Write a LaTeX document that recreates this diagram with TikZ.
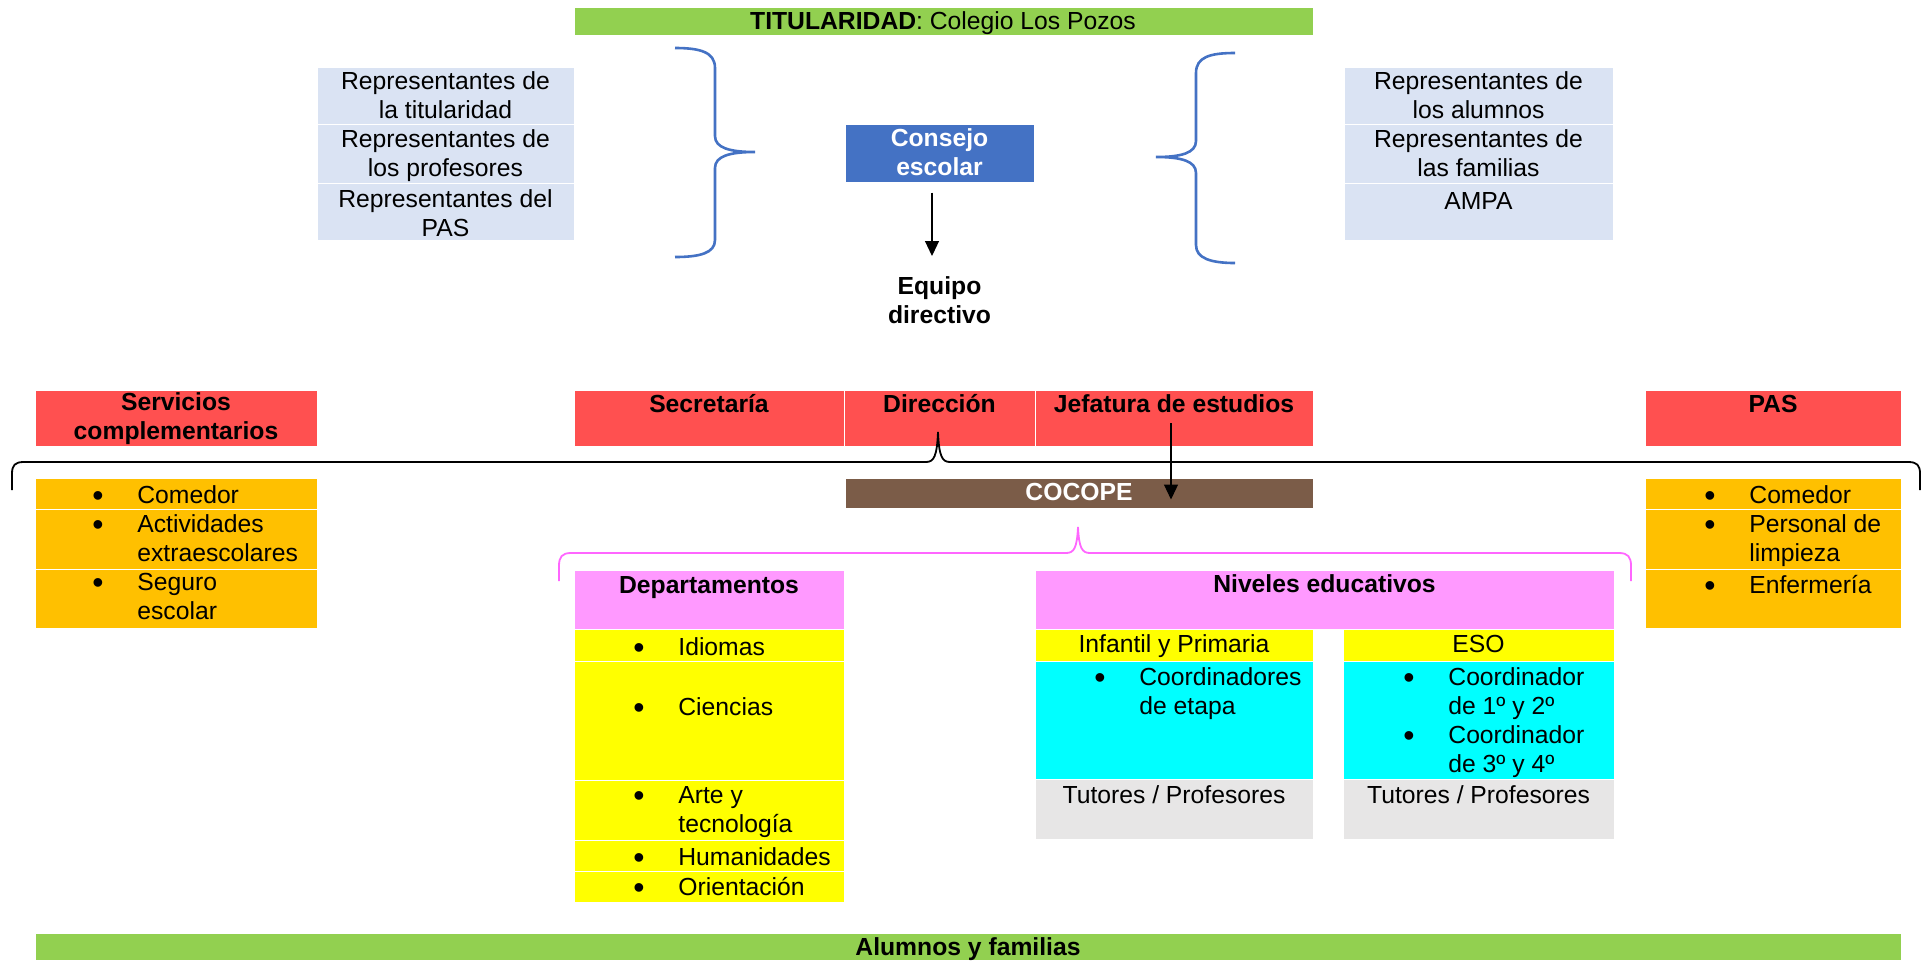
\documentclass[tikz,border=0pt]{standalone}
\usepackage{fontspec}
\setmainfont{Liberation Sans}
\usetikzlibrary{fit,arrows.meta}
\definecolor{cgreen}{HTML}{92D050}
\definecolor{clight}{HTML}{DAE3F3}
\definecolor{cblue}{HTML}{4472C4}
\definecolor{cred}{HTML}{FF5050}
\definecolor{corange}{HTML}{FFC000}
\definecolor{cbrown}{HTML}{7B5C48}
\definecolor{cpink}{HTML}{FF99FF}
\definecolor{cyellow}{HTML}{FFFF00}
\definecolor{ccyan}{HTML}{00FFFF}
\definecolor{cgrey}{HTML}{E7E6E6}
\definecolor{cmag}{HTML}{FF66FF}
\newcommand\fs{\fontsize{12.35pt}{14.6pt}\selectfont}
\newcommand\topstrut{\rule{0pt}{9.94pt}}
\newcommand\bul{\llap{\makebox[0pt]{\raisebox{-1.5pt}{\fontsize{16pt}{16pt}\selectfont •}}\hspace{19.75pt}}}
\tikzset{
  cell/.style={inner sep=0pt, draw=white, line width=0.5pt},
  txt/.style={inner sep=0pt, anchor=north, font=\fs, align=center, execute at begin node=\topstrut},
  btxt/.style={txt, font=\fs\bfseries},
  itm/.style={inner sep=0pt, anchor=north west, font=\fs, align=left, execute at begin node=\topstrut},
  arr/.style={-{Triangle[length=7.5pt,width=7pt]}, line width=0.6pt},
  bluebrace/.style={draw=cblue, line width=1.3pt},
  blackbrace/.style={draw=black, line width=0.9pt},
  magbrace/.style={draw=cmag, line width=0.9pt},
}
\begin{document}
\begin{tikzpicture}[x=0.5pt,y=-0.5pt]
\useasboundingbox (0,0) rectangle (1928,960);
% ---------- cells ----------
\node[cell, fill=cgreen, fit={(574,7) (1313,35)}] (tit) {};
\node[cell, fill=clight, fit={(317,67) (574,124)}] (lr1) {};
\node[cell, fill=clight, fit={(317,124) (574,183)}] (lr2) {};
\node[cell, fill=clight, fit={(317,183) (574,240)}] (lr3) {};
\node[cell, fill=cblue, fit={(845,124) (1034,182)}] (cons) {};
\node[cell, fill=clight, fit={(1344,67) (1613,124)}] (rr1) {};
\node[cell, fill=clight, fit={(1344,124) (1613,183)}] (rr2) {};
\node[cell, fill=clight, fit={(1344,183) (1613,240)}] (rr3) {};
% red row
\node[cell, fill=cred, fit={(35,390) (317,446)}] (serv) {};
\node[cell, fill=cred, fit={(574,390) (844,446)}] (secr) {};
\node[cell, fill=cred, fit={(844,390) (1035,446)}] (dir) {};
\node[cell, fill=cred, fit={(1035,390) (1313,446)}] (jef) {};
\node[cell, fill=cred, fit={(1645,390) (1901,446)}] (pas) {};
\node[cell, fill=cbrown, fit={(845,478) (1313,508)}] (cocope) {};
% orange lists
\node[cell, fill=corange, fit={(35,478) (317,509)}] (ol1) {};
\node[cell, fill=corange, fit={(35,509) (317,569)}] (ol2) {};
\node[cell, fill=corange, fit={(35,569) (317,628)}] (ol3) {};
\node[cell, fill=corange, fit={(1645,478) (1901,509)}] (or1) {};
\node[cell, fill=corange, fit={(1645,509) (1901,569)}] (or2) {};
\node[cell, fill=corange, fit={(1645,569) (1901,628)}] (or3) {};
% departamentos
\node[cell, fill=cpink, fit={(574,570) (844,629)}] (dep) {};
\node[cell, fill=cyellow, fit={(574,629) (844,661)}] (d1) {};
\node[cell, fill=cyellow, fit={(574,661) (844,780)}] (d2) {};
\node[cell, fill=cyellow, fit={(574,780) (844,840)}] (d3) {};
\node[cell, fill=cyellow, fit={(574,840) (844,871)}] (d4) {};
\node[cell, fill=cyellow, fit={(574,871) (844,902)}] (d5) {};
% niveles
\node[cell, fill=cpink, fit={(1035,570) (1614,629)}] (niv) {};
\node[cell, fill=cyellow, fit={(1035,629) (1313,661)}] (inf) {};
\node[cell, fill=cyellow, fit={(1343,629) (1614,661)}] (eso) {};
\node[cell, fill=ccyan, fit={(1035,661) (1313,779)}] (c1) {};
\node[cell, fill=ccyan, fit={(1343,661) (1614,779)}] (c2) {};
\node[cell, fill=cgrey, fit={(1035,779) (1313,839)}] (t1) {};
\node[cell, fill=cgrey, fit={(1343,779) (1614,839)}] (t2) {};
\node[cell, fill=cgreen, fit={(35,933) (1901,960)}] (alum) {};
% ---------- texts ----------
\node[txt] (tittx) at (943,9) {\textbf{TITULARIDAD}: Colegio Los Pozos};
\node[txt] (lr1t) at (445.5,71) {Representantes de\\la titularidad};
\node[txt] (lr2t) at (445.5,129) {Representantes de\\los profesores};
\node[txt] (lr3t) at (445.5,189) {Representantes del\\PAS};
\node[txt] (rr1t) at (1478.5,71) {Representantes de\\los alumnos};
\node[txt] (rr2t) at (1478.5,129) {Representantes de\\las familias};
\node[txt] (rr3t) at (1478.5,189) {AMPA};
\node[btxt, text=white] (const) at (939.5,128) {Consejo\\escolar};
\node[btxt] (eqp) at (939.5,276) {Equipo\\directivo};
\node[btxt] (servt) at (176,392) {Servicios\\complementarios};
\node[btxt] (secrt) at (709,392) {Secretaría};
\node[btxt] (dirt) at (939.5,392) {Dirección};
\node[btxt] (jeft) at (1174,392) {Jefatura de estudios};
\node[btxt] (past) at (1773,392) {PAS};
\node[btxt, text=white] (cocopet) at (1079,480) {COCOPE};
\node[itm] (ol1t) at (137,483) {\bul Comedor};
\node[itm] (ol2t) at (137,514) {\bul Actividades\\extraescolares};
\node[itm] (ol3t) at (137,573) {\bul Seguro\\escolar};
\node[itm] (or1t) at (1749,483) {\bul Comedor};
\node[itm] (or2t) at (1749,514) {\bul Personal de\\limpieza};
\node[itm] (or3t) at (1749,573) {\bul Enfermería};
\node[btxt] (dept) at (709,573) {Departamentos};
\node[btxt] (nivt) at (1324.5,572) {Niveles educativos};
\node[itm] (d1t) at (678,635) {\bul Idiomas};
\node[itm] (d2t) at (678,695) {\bul Ciencias};
\node[itm] (d3t) at (678,786) {\bul Arte y\\tecnología};
\node[itm] (d4t) at (678,845) {\bul Humanidades};
\node[itm] (d5t) at (678,875) {\bul Orientación};
\node[txt] (inft) at (1174,632) {Infantil y Primaria};
\node[txt] (esot) at (1478.5,632) {ESO};
\node[itm] (c1t) at (1139,667) {\bul Coordinadores\\de etapa};
\node[itm] (c2t) at (1448,667) {\bul Coordinador\\de 1º y 2º};
\node[itm] (c3t) at (1448,725) {\bul Coordinador\\de 3º y 4º};
\node[txt] (t1t) at (1174,783) {Tutores / Profesores};
\node[txt] (t2t) at (1478.5,783) {Tutores / Profesores};
\node[btxt] (alumt) at (968,935) {Alumnos y familias};
% ---------- braces ----------
\draw[bluebrace] (675,48) .. controls (700,48) and (715,52) .. (715,68) -- (715,136)
  .. controls (715,148) and (730,152) .. (755,152)
  .. controls (730,152) and (715,156) .. (715,168) -- (715,240)
  .. controls (715,253) and (700,257) .. (675,257);
\draw[bluebrace] (1235,53) .. controls (1210,53) and (1196,57) .. (1196,73) -- (1196,141)
  .. controls (1196,153) and (1181,157) .. (1156,157)
  .. controls (1181,157) and (1196,161) .. (1196,173) -- (1196,245)
  .. controls (1196,258) and (1210,263) .. (1235,263);
\draw[blackbrace] (12,490) -- (12,474) .. controls (12,465) and (15,462) .. (24,462) -- (926,462)
  .. controls (934,462) and (937,456) .. (938,432)
  .. controls (939,456) and (942,462) .. (950,462) -- (1908,462)
  .. controls (1917,462) and (1920,465) .. (1920,474) -- (1920,490);
\draw[magbrace] (559,581) -- (559,566) .. controls (559,557) and (562,553) .. (571,553) -- (1066,553)
  .. controls (1074,553) and (1077,548) .. (1078,527)
  .. controls (1079,548) and (1082,553) .. (1090,553) -- (1619,553)
  .. controls (1628,553) and (1631,557) .. (1631,566) -- (1631,581);
% ---------- arrows ----------
\draw[arr, shorten <=5pt, shorten >=10pt] ([xshift=-3.75pt]cons.south) -- ([xshift=-3.75pt]eqp.north);
\path ([xshift=-1.5pt,yshift=-2.5pt]jef.center) coordinate (ja);
\draw[arr, shorten >=4.5pt] (ja) -- (ja |- cocope.south);
\end{tikzpicture}
\end{document}
